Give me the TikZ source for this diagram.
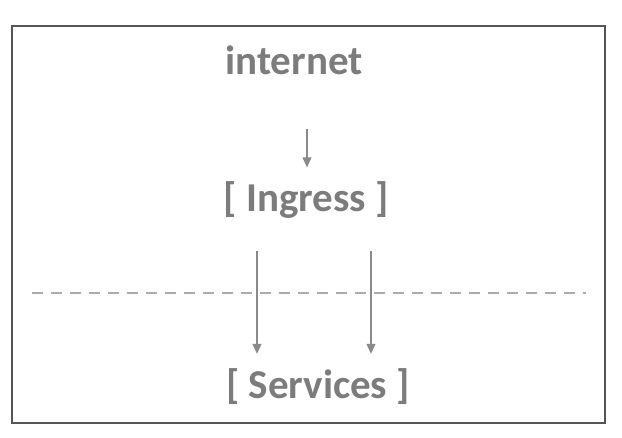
\documentclass[tikz,border=0pt]{standalone}
\usepackage{fontspec}
\setmainfont{Carlito}
\usetikzlibrary{arrows.meta,calc}
\definecolor{txtgray}{HTML}{7C7C7C}
\definecolor{framegray}{HTML}{555555}
\definecolor{arrgray}{HTML}{8A8A8A}
\definecolor{dashgray}{HTML}{ABABAB}
\begin{document}
\begin{tikzpicture}[x=1pt,y=-1pt,
  lbl/.style={inner sep=0pt,text=txtgray,font=\fontsize{41}{44}\selectfont\bfseries,anchor=center},
  arr/.style={draw=arrgray,line width=1.1pt,-{Triangle[width=9pt,length=10pt]}},
  frame/.style={draw=framegray,line width=2pt},
  sep/.style={draw=dashgray,line width=1.6pt,dash pattern=on 11pt off 8pt}]
\useasboundingbox (0,0) rectangle (622,438);
\draw[frame] (12,26) rectangle (605,423);
\node[lbl] (internet) at (294,60) {internet};
\node[lbl] (ingress) at (306,200) {[ Ingress ]};
\node[lbl] (services) at (318,387) {[ Services ]};
\coordinate (dl) at (32,293);
\coordinate (dr) at (586,293);
\draw[sep] (dl) -- (dr);
\draw[arr] ($(internet.south)+(13,54)$) -- ($(ingress.north)+(1,-14)$);
\draw[arr] ($(ingress.south)+(-49,32)$) -- ($(services.north)+(-61,-15)$);
\draw[arr] ($(ingress.south)+(65,32)$) -- ($(services.north)+(53,-15)$);
\end{tikzpicture}
\end{document}
